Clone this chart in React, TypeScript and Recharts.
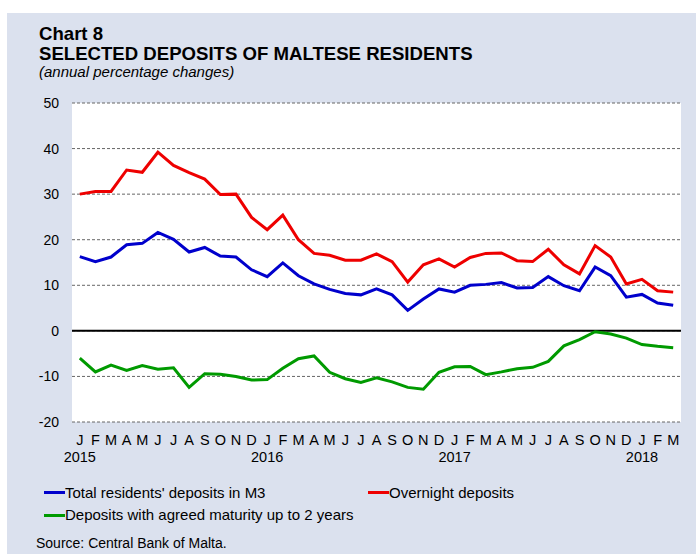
import { LineChart, Line, XAxis, YAxis, CartesianGrid, ReferenceLine } from 'recharts'

const periods = [
  '2015-01', '2015-02', '2015-03', '2015-04', '2015-05', '2015-06', '2015-07', '2015-08', '2015-09', '2015-10', '2015-11', '2015-12',
  '2016-01', '2016-02', '2016-03', '2016-04', '2016-05', '2016-06', '2016-07', '2016-08', '2016-09', '2016-10', '2016-11', '2016-12',
  '2017-01', '2017-02', '2017-03', '2017-04', '2017-05', '2017-06', '2017-07', '2017-08', '2017-09', '2017-10', '2017-11', '2017-12',
  '2018-01', '2018-02', '2018-03',
]

const monthLetters = [
  'J', 'F', 'M', 'A', 'M', 'J', 'J', 'A', 'S', 'O', 'N', 'D',
  'J', 'F', 'M', 'A', 'M', 'J', 'J', 'A', 'S', 'O', 'N', 'D',
  'J', 'F', 'M', 'A', 'M', 'J', 'J', 'A', 'S', 'O', 'N', 'D',
  'J', 'F', 'M',
]

const yearLabels: Record<string, string> = {
  '2015-01': '2015',
  '2016-01': '2016',
  '2017-01': '2017',
  '2018-01': '2018',
}

const totalResidents = [
  16.3, 15.2, 16.2, 18.9, 19.2, 21.6, 20.1, 17.3, 18.3, 16.4, 16.2, 13.4,
  11.9, 14.9, 12.1, 10.3, 9.1, 8.2, 7.9, 9.2, 7.9, 4.5, 7.0, 9.2,
  8.5, 10.0, 10.2, 10.6, 9.4, 9.5, 11.9, 9.9, 8.8, 14.0, 12.1, 7.4,
  8.0, 6.1, 5.6,
]

const overnight = [
  30.0, 30.6, 30.6, 35.3, 34.8, 39.2, 36.3, 34.7, 33.3, 29.9, 30.0, 24.9,
  22.2, 25.4, 20.0, 17.0, 16.6, 15.5, 15.5, 16.9, 15.2, 10.7, 14.5, 15.8,
  14.0, 16.1, 17.0, 17.1, 15.4, 15.2, 17.9, 14.5, 12.5, 18.7, 16.2, 10.3,
  11.3, 8.8, 8.5,
]

const agreedMaturity = [
  -6.0, -9.0, -7.5, -8.7, -7.6, -8.4, -8.1, -12.4, -9.4, -9.5, -10.0, -10.8,
  -10.7, -8.2, -6.1, -5.5, -9.1, -10.5, -11.3, -10.3, -11.2, -12.4, -12.8, -9.1,
  -7.9, -7.8, -9.6, -9.0, -8.3, -8.0, -6.7, -3.3, -1.9, -0.2, -0.7, -1.6,
  -3.0, -3.4, -3.7,
]

const yTicks = [-20, -10, 0, 10, 20, 30, 40, 50]

const data = periods.map((p, i) => ({
  period: p,
  total: totalResidents[i],
  overnight: overnight[i],
  maturity: agreedMaturity[i],
}))

const FONT = "'Liberation Sans', Arial, sans-serif"
const BLUE = '#0000cc'
const RED = '#ee0000'
const GREEN = '#009a00'

function MonthTick(props: any) {
  const { x, y, payload, index } = props
  const year = yearLabels[payload.value]
  return (
    <g>
      <text x={x} y={y + 23} textAnchor='middle' fontSize={14.5} fill='#000' fontFamily={FONT}>
        {monthLetters[index]}
      </text>
      {year && (
        <text x={x} y={y + 40} textAnchor='middle' fontSize={14.5} fill='#000' fontFamily={FONT}>
          {year}
        </text>
      )}
    </g>
  )
}

function LegendItem({ color, label, left, top }: { color: string; label: string; left: number; top: number }) {
  return (
    <div style={{ position: 'absolute', left, top, display: 'flex', alignItems: 'center', fontSize: 15, lineHeight: '16px', whiteSpace: 'nowrap' }}>
      <span style={{ display: 'inline-block', width: 21, height: 3, background: color }} />
      <span>{label}</span>
    </div>
  )
}

export default function App() {
  return (
    <div style={{ position: 'absolute', left: 0, top: 0, width: 696, height: 554, background: '#fff', fontFamily: FONT, color: '#000', overflow: 'hidden' }}>
      <div style={{ position: 'absolute', left: 7, top: 13, right: 0, bottom: 0, background: '#dbe1ee' }} />

      <div style={{ position: 'absolute', left: 39, top: 24, fontSize: 18.6, fontWeight: 'bold', lineHeight: '19px' }}>Chart 8</div>
      <div style={{ position: 'absolute', left: 39, top: 43.5, fontSize: 18.6, fontWeight: 'bold', lineHeight: '19px', whiteSpace: 'nowrap' }}>
        SELECTED DEPOSITS OF MALTESE RESIDENTS
      </div>
      <div style={{ position: 'absolute', left: 39, top: 64, fontSize: 15, fontStyle: 'italic', lineHeight: '15px', whiteSpace: 'nowrap' }}>
        (annual percentage changes)
      </div>

      <div style={{ position: 'absolute', left: 0, top: 0 }}>
        <LineChart width={696} height={470} data={data} margin={{ top: 103, right: 15, bottom: 0, left: 0 }}>
          <CartesianGrid vertical={false} fill='#fff' stroke='#666' strokeDasharray='3 2' />
          <XAxis
            dataKey='period'
            scale='band'
            interval={0}
            height={48}
            axisLine={false}
            tickLine={false}
            tickSize={0}
            tickMargin={0}
            tick={<MonthTick />}
          />
          <YAxis
            width={72}
            domain={[-20, 50]}
            ticks={yTicks}
            interval={0}
            axisLine={false}
            tickLine={false}
            tickSize={0}
            tickMargin={13}
            tick={{ fontSize: 14, fill: '#000', fontFamily: FONT }}
          />
          <ReferenceLine y={0} stroke='#000' strokeWidth={2} />
          <Line dataKey='total' stroke={BLUE} strokeWidth={3} dot={false} isAnimationActive={false} />
          <Line dataKey='overnight' stroke={RED} strokeWidth={3} dot={false} isAnimationActive={false} />
          <Line dataKey='maturity' stroke={GREEN} strokeWidth={3} dot={false} isAnimationActive={false} />
        </LineChart>
      </div>

      <LegendItem color={BLUE} label="Total residents' deposits in M3" left={44} top={484.5} />
      <LegendItem color={RED} label='Overnight deposits' left={368} top={484.5} />
      <LegendItem color={GREEN} label='Deposits with agreed maturity up to 2 years' left={44} top={507} />

      <div style={{ position: 'absolute', left: 36, top: 536, fontSize: 14, lineHeight: '14px', whiteSpace: 'nowrap' }}>Source: Central Bank of Malta.</div>
    </div>
  )
}
